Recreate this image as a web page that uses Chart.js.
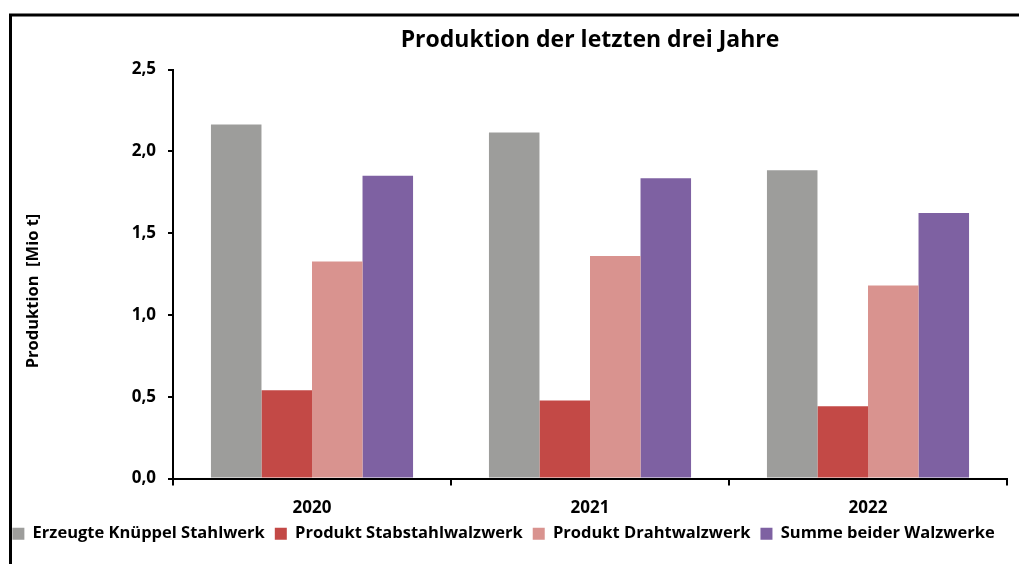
<!DOCTYPE html>
<html>
<head>
<meta charset="utf-8">
<script src="https://cdn.jsdelivr.net/npm/chart.js@4/dist/chart.umd.min.js"></script>
<style>
  html, body { margin: 0; padding: 0; background: #fff; }
  #wrap { width: 1019px; height: 564px; position: relative; }
</style>
</head>
<body>
<div id="wrap"><canvas id="grafico"></canvas></div>
<script>
// Daten
const jahre = ['2020', '2021', '2022'];
const knueppel = [2.165, 2.115, 1.884];
const stabstahl = [0.540, 0.477, 0.441];
const draht = [1.326, 1.361, 1.180];
const summe = [1.851, 1.835, 1.624];
const yTickLabels = ['0,0', '0,5', '1,0', '1,5', '2,0', '2,5'];

const schrift = '"Open Sans", Lato, sans-serif';

// Rahmen + Achsentitel
const extras = {
  id: 'extras',
  afterDraw(chart) {
    const ctx = chart.ctx;
    ctx.save();
    ctx.strokeStyle = '#000';
    ctx.lineWidth = 3;
    ctx.strokeRect(10.5, 15, 1200, 800);
    ctx.translate(33, 291);
    ctx.rotate(-Math.PI / 2);
    ctx.font = 'bold 16.5px ' + schrift;
    ctx.fillStyle = '#000';
    ctx.textAlign = 'center';
    ctx.textBaseline = 'middle';
    ctx.fillText('Produktion  [Mio t]', 0, 0);
    ctx.restore();
  }
};

const ctx = document.getElementById('grafico').getContext('2d');
const chart = new Chart(ctx, {
  type: 'bar',
  data: {
    labels: jahre,
    datasets: [
      { label: 'Erzeugte Knüppel Stahlwerk', data: knueppel, backgroundColor: '#9d9d9b' },
      { label: 'Produkt Stabstahlwalzwerk', data: stabstahl, backgroundColor: '#c34946' },
      { label: 'Produkt Drahtwalzwerk', data: draht, backgroundColor: '#d9938f' },
      { label: 'Summe beider Walzwerke', data: summe, backgroundColor: '#7e61a2' }
    ]
  },
  options: {
    responsive: true,
    maintainAspectRatio: false,
    animation: false,
    layout: { padding: { left: 0, right: 12, top: 0, bottom: 12 } },
    datasets: {
      bar: { categoryPercentage: 0.727, barPercentage: 1.0 }
    },
    plugins: {
      title: {
        display: true,
        text: 'Produktion der letzten drei Jahre',
        fullSize: false,
        color: '#000',
        font: { family: schrift, size: 23, weight: 'bold' },
        padding: { top: 27, bottom: 15 }
      },
      legend: {
        position: 'bottom',
        labels: {
          color: '#000',
          boxWidth: 12,
          boxHeight: 12,
          padding: 10,
          font: { family: schrift, size: 16.5, weight: 'bold' }
        }
      },
      tooltip: { enabled: false }
    },
    scales: {
      x: {
        grid: { display: true, drawOnChartArea: false, offset: true, tickLength: 7, color: '#000', lineWidth: 2 },
        border: { color: '#000', width: 2 },
        ticks: { color: '#000', padding: 12, font: { family: schrift, size: 17, weight: 'bold' } },
        afterFit(scale) { scale.height = 37; }
      },
      y: {
        min: 0,
        max: 2.5,
        ticks: {
          stepSize: 0.5,
          color: '#000',
          padding: 12,
          font: { family: schrift, size: 17, weight: 'bold' },
          callback: (v, i) => yTickLabels[i]
        },
        grid: { display: true, drawOnChartArea: false, tickLength: 5, color: '#000', lineWidth: 2 },
        border: { color: '#000', width: 2 },
        afterFit(scale) { scale.width = 173; }
      }
    }
  },
  plugins: [extras]
});
</script>
</body>
</html>
